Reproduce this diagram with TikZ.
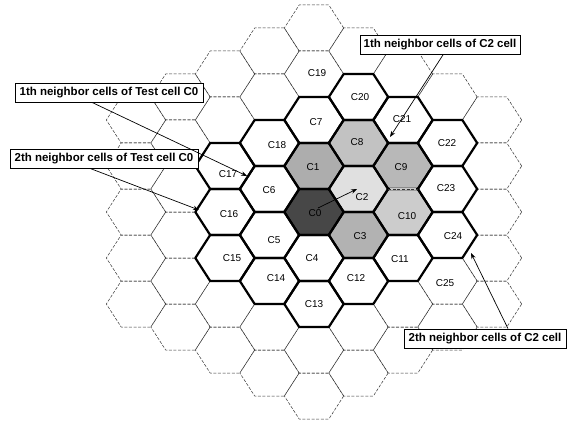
\documentclass[tikz,border=0pt]{standalone}
\usepackage{fontspec}
\setmainfont{Liberation Sans}
\usetikzlibrary{arrows.meta}
% draw one hexagonal cell: style, column k, row j
\newcommand\hexcell[3]{%
  \pgfmathsetmacro\hx{314+44.5*(#2)}%
  \pgfmathsetmacro\hy{212-23*(#2)+46*(#3)}%
  \path[#1] (\hx+29.67,\hy) -- (\hx+14.83,\hy-23) -- (\hx-14.83,\hy-23)
    -- (\hx-29.67,\hy) -- (\hx-14.83,\hy+23) -- (\hx+14.83,\hy+23) -- cycle;}
\begin{document}
\begin{tikzpicture}[x=1pt,y=-1pt,
  gridhex/.style={draw=black!80, line width=0.5pt, dash pattern=on 3pt off 1.6pt},
  thickhex/.style={draw=black, line width=2.2pt, line join=round},
  cellname/.style={font=\fontsize{10}{12}\selectfont, inner sep=0pt},
  note/.style={draw, fill=white, line width=0.8pt, inner sep=0pt, minimum height=19pt,
    font=\bfseries\fontsize{11.5}{13}\selectfont},
  arr/.style={draw, line width=0.7pt, -{Stealth[length=6pt,width=4.5pt]}}]
\useasboundingbox (0,0) rectangle (573,425);
\fill[white] (0,0) rectangle (573,425);
% shaded cells
\hexcell{fill=black!72}{0}{0}
\hexcell{fill=black!32}{0}{-1}
\hexcell{fill=black!12}{1}{0}
\hexcell{fill=black!30}{1}{1}
\hexcell{fill=black!24}{1}{-1}
\hexcell{fill=black!28}{2}{0}
\hexcell{fill=black!20}{2}{1}
% dashed grid: hexagonal region of radius 4 round C0
\foreach \k in {-4,...,4}{\foreach \j in {-4,...,4}{%
  \pgfmathtruncatemacro\dd{(abs(\k)+abs(\j-\k)+abs(\j))/2}%
  \ifnum\dd<5 \hexcell{gridhex}{\k}{\j}\fi}}
% thick outlines of the numbered cells
\foreach \k/\j in {0/0,0/-1,1/0,1/1,0/1,-1/0,-1/-1,0/-2,1/-1,2/0,2/1,2/2,1/2,0/2,
  -1/1,-2/0,-2/-1,-2/-2,-1/-2,1/-2,2/-1,3/0,3/1,3/2}{\hexcell{thickhex}{\k}{\j}}
% the C9/C10 border is thin
\draw[line width=2.8pt, draw=black!22] (390,189) -- (416,189);
\draw[gridhex] (388.2,189) -- (417.8,189);
% cell labels
\node[cellname] (C0) at (315,213) {C0};
\node[cellname] (C1) at (313,167) {C1};
\node[cellname] (C2) at (362,197) {C2};
\node[cellname] (C3) at (360,236) {C3};
\node[cellname] (C4) at (312,258) {C4};
\node[cellname] (C5) at (274,240) {C5};
\node[cellname] (C6) at (269,190) {C6};
\node[cellname] (C7) at (316,122) {C7};
\node[cellname] (C8) at (357,142) {C8};
\node[cellname] (C9) at (401,167) {C9};
\node[cellname] (C10) at (407,216) {C10};
\node[cellname] (C11) at (400,259) {C11};
\node[cellname] (C12) at (356,278) {C12};
\node[cellname] (C13) at (314,304) {C13};
\node[cellname] (C14) at (276,278) {C14};
\node[cellname] (C15) at (232,258) {C15};
\node[cellname] (C16) at (229,214) {C16};
\node[cellname] (C17) at (228,174) {C17};
\node[cellname] (C18) at (277,145) {C18};
\node[cellname] (C19) at (317,73) {C19};
\node[cellname] (C20) at (360,97) {C20};
\node[cellname] (C21) at (402,119) {C21};
\node[cellname] (C22) at (447,143) {C22};
\node[cellname] (C23) at (446,188) {C23};
\node[cellname] (C24) at (453,236) {C24};
\node[cellname] (C25) at (445,283) {C25};
% arrow from C0 to C2
\coordinate (c0s) at (318,208);
\coordinate (c2t) at (357,189);
\draw[arr] (c0s) -- (c2t);
% explanatory boxes
\node[note, minimum width=188pt] (box1) at (109,92.5) {1th neighbor cells of Test cell C0};
\node[note, minimum width=188pt] (box2) at (104,158.5) {2th neighbor cells of Test cell C0};
\node[note, minimum width=160pt] (box3) at (440,45) {1th neighbor cells of C2 cell};
\node[note, minimum width=162pt] (box4) at (485,338.5) {2th neighbor cells of C2 cell};
\coordinate (a1x) at (92,0);   \coordinate (t1) at (247,176);
\coordinate (a2x) at (90,0);   \coordinate (t2) at (199,210);
\coordinate (a3x) at (443,0);  \coordinate (t3) at (390,137);
\coordinate (a4x) at (508,0);  \coordinate (t4) at (471,253);
\draw[arr] (box1.south -| a1x) -- (t1);
\draw[arr] (box2.south -| a2x) -- (t2);
\draw[arr] (box3.south -| a3x) -- (t3);
\draw[arr] (box4.north -| a4x) -- (t4);
\end{tikzpicture}
\end{document}
